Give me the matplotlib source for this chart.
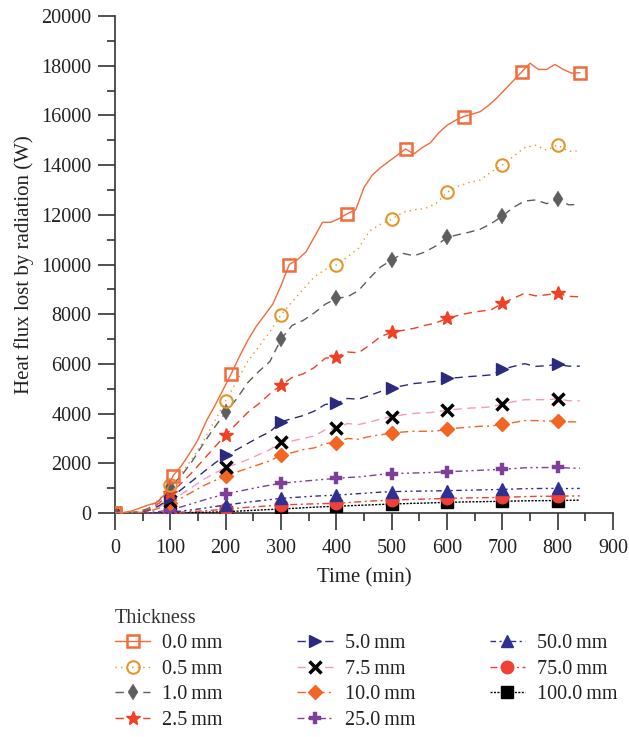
import matplotlib
matplotlib.use("Agg")
import matplotlib.pyplot as plt
import matplotlib.ticker as ticker

plt.rcParams['font.family'] = ['Liberation Serif', 'DejaVu Serif']

# time axis (min)
t_bare = list(range(0, 841, 15))
t = list(range(0, 841, 20))

# heat flux lost by radiation (W) for each insulation thickness
q_00 = [0, 20, 80, 200, 320, 420, 750, 1500, 1900, 2400, 2950, 3700, 4300, 4950, 5600,
        6300, 6950, 7500, 7950, 8400, 9150, 10000, 10200, 10500, 11100, 11700, 11700,
        11850, 12050, 12200, 13100, 13600, 13900, 14150, 14400, 14650, 14450, 14700,
        14900, 15300, 15600, 15800, 15950, 16050, 16150, 16400, 16700, 17050, 17400,
        17750, 18100, 17850, 17850, 18050, 17850, 17700, 17720]
q_05 = [0, 10, 50, 200, 550, 1130, 1600, 2200, 2900, 3700, 4520, 5300, 6100, 6700, 7300,
        7970, 8500, 9000, 9500, 9800, 9980, 10300, 10650, 11350, 11620, 11820, 12100,
        12200, 12250, 12450, 12900, 13150, 13300, 13400, 13730, 14000, 14350, 14700,
        14800, 14600, 14810, 14550, 14580]
q_10 = [0, 10, 40, 180, 500, 1060, 1500, 2100, 2800, 3450, 4050, 4600, 5250, 5700, 6100,
        6990, 7550, 7750, 8050, 8400, 8640, 8700, 8950, 9450, 9900, 10180, 10450, 10350,
        10500, 10750, 11090, 11200, 11300, 11420, 11650, 11950, 12300, 12550, 12600,
        12450, 12620, 12400, 12420]
q_25 = [0, 10, 30, 130, 400, 800, 1200, 1650, 2150, 2650, 3140, 3600, 4050, 4400, 4800,
        5150, 5450, 5600, 5850, 6230, 6290, 6480, 6450, 6750, 7100, 7270, 7350, 7430,
        7550, 7650, 7830, 7950, 8050, 8120, 8180, 8440, 8640, 8840, 8740, 8780, 8840,
        8720, 8700]
q_50 = [0, 5, 20, 100, 300, 600, 950, 1300, 1650, 2000, 2330, 2550, 2800, 3050, 3270,
        3670, 3800, 3920, 4100, 4370, 4410, 4610, 4580, 4730, 4890, 5040, 5120, 5210,
        5250, 5300, 5420, 5450, 5490, 5520, 5560, 5780, 5900, 6010, 5900, 5930, 5980,
        5910, 5910]
q_75 = [0, 5, 15, 80, 250, 500, 750, 1050, 1350, 1600, 1840, 1980, 2150, 2350, 2550,
        2870, 2900, 3000, 3100, 3350, 3410, 3600, 3560, 3660, 3780, 3880, 3950, 4010,
        4030, 4060, 4140, 4180, 4220, 4240, 4270, 4390, 4480, 4560, 4560, 4560, 4590,
        4520, 4520]
q_100 = [0, 5, 10, 60, 200, 400, 600, 850, 1100, 1300, 1500, 1650, 1800, 1950, 2100,
         2330, 2430, 2550, 2620, 2800, 2830, 3000, 2970, 3080, 3150, 3210, 3260, 3290,
         3290, 3300, 3370, 3420, 3460, 3490, 3500, 3580, 3640, 3720, 3720, 3700, 3710,
         3670, 3670]
q_250 = [0, 0, 5, 20, 60, 130, 250, 380, 520, 650, 760, 860, 950, 1040, 1120, 1190, 1240,
         1280, 1320, 1360, 1390, 1430, 1450, 1500, 1550, 1590, 1600, 1610, 1620, 1640,
         1660, 1680, 1700, 1720, 1740, 1760, 1790, 1820, 1830, 1830, 1840, 1810, 1800]
q_500 = [0, 0, 0, 5, 15, 40, 80, 130, 190, 260, 320, 380, 440, 490, 540, 590, 620, 650,
         680, 700, 720, 750, 780, 810, 840, 860, 870, 880, 885, 890, 900, 910, 920, 930,
         940, 950, 965, 980, 985, 990, 990, 985, 990]
q_750 = [0, 0, 0, 0, 5, 15, 35, 60, 90, 120, 150, 190, 230, 260, 290, 320, 340, 355, 370,
         380, 390, 420, 450, 480, 500, 520, 535, 550, 560, 575, 590, 600, 610, 615, 620,
         630, 645, 660, 670, 675, 680, 685, 690]
q_1000 = [0, 0, 0, 0, 0, 5, 10, 20, 30, 40, 55, 75, 95, 120, 140, 160, 185, 210, 235, 255,
          270, 290, 310, 325, 345, 360, 375, 390, 400, 415, 430, 440, 450, 455, 465, 470,
          480, 490, 495, 500, 500, 510, 520]

labels = ["0.0\u2009mm", "0.5\u2009mm", "1.0\u2009mm", "2.5\u2009mm", "5.0\u2009mm",
          "7.5\u2009mm", "10.0\u2009mm", "25.0\u2009mm", "50.0\u2009mm", "75.0\u2009mm",
          "100.0\u2009mm"]

series = [
    (t_bare, q_00, dict(color='#F36B3B', ls='-', marker='s', ms=9, mfc='none', mec='#F36B3B', mew=1.8, markevery=7)),
    (t, q_05, dict(color='#E2972B', ls=(0, (1, 3)), marker='o', ms=9, mfc='none', mec='#E2972B', mew=1.5, markevery=5)),
    (t, q_10, dict(color='#5E5E5E', ls=(0, (6, 4)), marker='d', ms=8, mfc='#5E5E5E', mec='#5E5E5E', mew=0.3, markevery=5)),
    (t, q_25, dict(color='#EF4123', ls=(0, (6, 4)), marker='*', ms=10, mfc='#EF4123', mec='#EF4123', markevery=5)),
    (t, q_50, dict(color='#2B2A7F', ls=(0, (6, 4)), marker='>', ms=9, mfc='#2B2A7F', mec='#2B2A7F', markevery=5)),
    (t, q_75, dict(color='#F49AC1', ls=(0, (6, 4)), marker='x', ms=8, mfc='black', mec='black', mew=2.5, markevery=5)),
    (t, q_100, dict(color='#F26522', ls=(0, (6, 3, 1.5, 3)), marker='D', ms=7, mfc='#F26522', mec='#F26522', markevery=5)),
    (t, q_250, dict(color='#7F3F98', ls=(0, (5, 2.5, 1.5, 2.5, 1.5, 2.5)), marker='P', ms=9, mfc='#7F3F98', mec='#7F3F98', mew=0.3, markevery=5)),
    (t, q_500, dict(color='#2E3192', ls=(0, (4, 2.5, 1.5, 2.5, 1.5, 2.5)), marker='^', ms=9, mfc='#2E3192', mec='#2E3192', markevery=5)),
    (t, q_750, dict(color='#EF4136', ls=(0, (5, 2.5, 1.5, 2.5)), marker='o', ms=9, mfc='#EF4136', mec='#EF4136', markevery=5)),
    (t, q_1000, dict(color='black', ls=(0, (1.5, 1)), marker='s', ms=8, mfc='black', mec='black', markevery=5)),
]

fig = plt.figure(figsize=(6.29, 7.37), dpi=100)
ax = fig.add_axes([0.1828, 0.3039, 0.7918, 0.6744])

handles = []
n = len(series)
for i, (x, y, kw) in enumerate(series):
    h, = ax.plot(x, y, lw=1.0, label=labels[i], zorder=10 + n - i, **kw)
    handles.append(h)

ax.set_xlim(0, 900)
ax.set_ylim(0, 20000)
ax.xaxis.set_major_locator(ticker.MultipleLocator(100))
ax.xaxis.set_minor_locator(ticker.MultipleLocator(50))
ax.yaxis.set_major_locator(ticker.MultipleLocator(2000))
ax.yaxis.set_minor_locator(ticker.MultipleLocator(1000))
ax.tick_params(which='major', direction='out', length=12, width=1.2, labelsize=14.5,
               pad=5, color='#333333', labelcolor='#222222')
ax.tick_params(axis='x', which='major', pad=7)
ax.tick_params(which='minor', direction='out', length=6, width=1.2, color='#333333')
for side in ['top', 'right']:
    ax.spines[side].set_visible(False)
for side in ['left', 'bottom']:
    ax.spines[side].set_color('#333333')
    ax.spines[side].set_linewidth(1.2)
ax.set_xlabel("Time (min)", fontsize=15, labelpad=7, color='#222222')
ax.set_ylabel("Heat flux lost by radiation (W)", fontsize=15, labelpad=5, color='#222222')

leg = fig.legend(handles=handles, loc='upper left', bbox_to_anchor=(0.183, 0.174),
                 ncol=3, frameon=False, title="Thickness", fontsize=14.5,
                 title_fontsize=14.5, alignment='left', handlelength=1.75,
                 handletextpad=0.6, columnspacing=3.7, labelspacing=0.32,
                 borderaxespad=0, borderpad=0)
leg.get_title().set_color('#333333')
for txt in leg.get_texts():
    txt.set_color('#222222')

fig.savefig("out.png", dpi=100)
